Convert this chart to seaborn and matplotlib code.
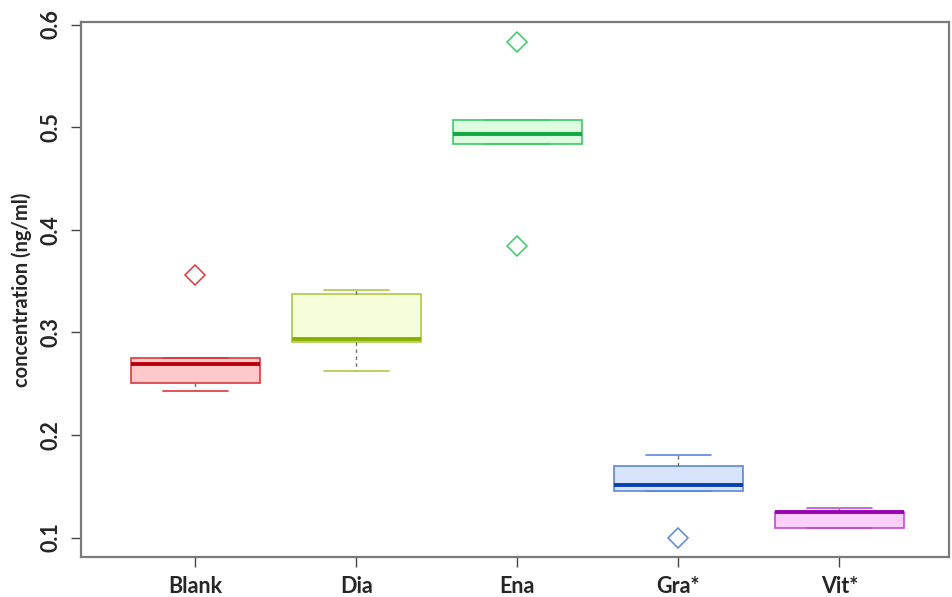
import numpy as np
import pandas as pd
import matplotlib
matplotlib.use("Agg")
import matplotlib.pyplot as plt
import seaborn as sns

# Measured concentrations per treatment (ng/ml)
categories = ["Blank", "Dia", "Ena", "Gra*", "Vit*"]
blank = [0.243, 0.2506, 0.269, 0.275, 0.356]
dia = [0.262, 0.2905, 0.2935, 0.337, 0.341]
ena = [0.384, 0.4835, 0.493, 0.507, 0.583]
gra = [0.0995, 0.145, 0.151, 0.170, 0.180]
vit = [0.109, 0.109, 0.125, 0.125, 0.1288]
y_ticks = [0.1, 0.2, 0.3, 0.4, 0.5, 0.6]

fills = ["#ffc9cb", "#f5fed8", "#dcfde0", "#d8e3fd", "#fbd0fb"]
edges = ["#d8393f", "#a9cb45", "#3ccb66", "#5b87dc", "#c34ad3"]
medians = ["#b8000a", "#8aae00", "#10a840", "#0a3fb0", "#9a00b4"]

groups = [blank, dia, ena, gra, vit]
df = pd.DataFrame({
    "group": np.repeat(categories, [len(g) for g in groups]),
    "value": np.concatenate(groups),
})

sns.set_style("white")
plt.rcParams["font.family"] = ["Lato", "DejaVu Sans"]

fig = plt.figure(figsize=(9.52, 5.97), dpi=100)
ax = fig.add_axes([0.0851, 0.067, 0.9117, 0.896])

for cat, fc, ec, mc in zip(categories, fills, edges, medians):
    sub = df[df["group"] == cat]
    sns.boxplot(
        data=sub, x="group", y="value", order=categories, ax=ax,
        color=fc, linecolor=ec, linewidth=1.2, width=0.8, saturation=1,
        boxprops={"facecolor": fc, "edgecolor": ec},
        medianprops={"color": mc, "linewidth": 2.8},
        whiskerprops={"color": "#707066", "linestyle": (0, (2.5, 2.5)), "linewidth": 1.0},
        capprops={"color": ec, "linewidth": 1.2},
        flierprops={"marker": "D", "markerfacecolor": "none",
                    "markeredgecolor": ec, "markersize": 10, "markeredgewidth": 1.1},
    )

ax.set_xlim(-0.71, 4.68)
ax.set_ylim(0.081, 0.6024)
ax.set_yticks(y_ticks)
ax.set_yticklabels([f"{t:.1f}" for t in y_ticks], rotation=90, va="center")
ax.set_xlabel("")
ax.set_ylabel("concentration (ng/ml)", fontsize=14.5, fontweight="bold", labelpad=6)

for lbl in ax.get_xticklabels() + ax.get_yticklabels():
    lbl.set_fontweight("bold")
    lbl.set_fontsize(15.5)

ax.tick_params(axis="both", which="both", direction="out", length=7, width=1.0,
               color="#444444", left=True, bottom=True, pad=7)
for sp in ax.spines.values():
    sp.set_visible(True)
    sp.set_color("#7a7a7a")
    sp.set_linewidth(1.6)

fig.savefig("out.png", dpi=100)
